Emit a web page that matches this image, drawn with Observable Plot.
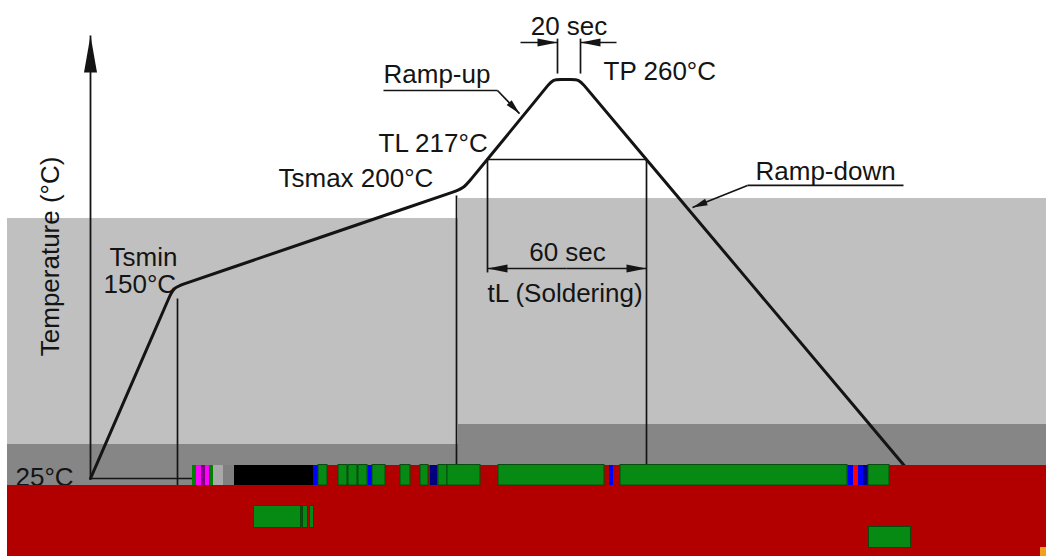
<!DOCTYPE html>
<html>
<head>
<meta charset="utf-8">
<script src="https://cdn.jsdelivr.net/npm/d3@7"></script>
<script src="https://cdn.jsdelivr.net/npm/@observablehq/plot@0.6"></script>
<style>
  html, body { margin: 0; padding: 0; background: #fff; }
  #chart svg { display: block; }
</style>
</head>
<body>
<div id="chart"></div>
<script>
// ---------- data (schematic time units on x, temperature in °C on y) ----------
// reflow profile, including the control points of the rounded corners
const profileTime = [90, 163.4, 168.2, 173, 184.4, 195.7, 440.3, 451.6, 463, 470.6, 478.2,
                     542.2, 547.2, 552.3, 560.3, 570.6, 578.6, 583.8, 588.9, 914.6];
const profileTemp = [25, 135.6, 142.8, 150, 152.0, 153.9, 196.1, 198.0, 200, 205.5, 210.9,
                     253.3, 256.7, 260, 260, 260, 260, 256.7, 253.4, 25];

// schematic (non-linear) temperature axis: key temperatures
const tempKeys   = [-26, 25, 150, 200, 217, 260, 302.5];
const tempPixels = [556, 478, 287, 188, 159, 79, 0];

// thin guide lines
const guides = [
  {x1: 90,  t1: 25,    x2: 300, t2: 25},     // 25 °C baseline
  {x1: 177, t1: 142.8, x2: 177, t2: 20.4},   // Tsmin drop
  {x1: 456, t1: 196.5, x2: 456, t2: 25},     // Tsmax drop
  {x1: 487, t1: 217,   x2: 646, t2: 217},    // TL level
  {x1: 487, t1: 217,   x2: 487, t2: 157.6},
  {x1: 646, t1: 217,   x2: 646, t2: 25},
  {x1: 557, t1: 282.0, x2: 557, t2: 263.2},  // 20 sec ticks
  {x1: 580, t1: 282.0, x2: 580, t2: 263.2},
  {x1: 383, t1: 254.1, x2: 497, t2: 254.1},  // Ramp-up underline
  {x1: 747, t1: 201.8, x2: 903, t2: 201.8}   // Ramp-down underline
];
// arrows (head at x2/t2)
const axisArrow = [{x1: 90, t1: 25, x2: 90, t2: 283.7}];
const dimArrows = [
  {x1: 520, t1: 279.9, x2: 557, t2: 279.9},
  {x1: 616, t1: 279.9, x2: 580, t2: 279.9},
  {x1: 566, t1: 159.6, x2: 487, t2: 159.6},
  {x1: 566, t1: 159.6, x2: 646, t2: 159.6}
];
const leaderArrows = [
  {x1: 497, t1: 254.1, x2: 519, t2: 241.7},
  {x1: 747, t1: 201.8, x2: 692, t2: 190.4}
];

// labels
const leftLabels = [
  {label: "TP 260°C",       x: 603, t: 259.5},
  {label: "Ramp-up",        x: 383, t: 257.9},
  {label: "TL 217°C",       x: 378, t: 220.8},
  {label: "Tsmax 200°C",    x: 278, t: 200.6},
  {label: "Tsmin",          x: 109, t: 161.1},
  {label: "150°C",          x: 103, t: 146.1},
  {label: "25°C",           x: 15,  t: 20.4},
  {label: "tL (Soldering)", x: 487, t: 140.2},
  {label: "Ramp-down",      x: 755, t: 204.7}
];
const centerLabels = [
  {label: "20 sec", x: 568.5, t: 283.7},
  {label: "60 sec", x: 567,   t: 163.6}
];
const axisTitle = [{label: "Temperature (°C)", x: 58, t: 165.7}];

// background bands of the picture
const lightBands = [
  {x1: 7,   x2: 458,  t1: 47.1, t2: 184.7},
  {x1: 458, x2: 1046, t1: 60.5, t2: 195.1}
];
const darkBands = [
  {x1: 7,   x2: 458,  t1: 20.4, t2: 47.1},
  {x1: 458, x2: 1046, t1: 20.4, t2: 60.5}
];
const redBands = [
  {x1: 7,   x2: 1046, t1: -26,  t2: 20.4},
  {x1: 192, x2: 1046, t1: 20.4, t2: 33.8}
];
// corrupted strip along the bottom
const stripKinds  = ["green", "magenta", "purple", "blue", "darkgray", "gray", "black", "navy", "red", "cyan"];
const stripColors = ["#0a8a1a", "#c21fc0", "#6a3aa8", "#1f45e6", "#2e3a30", "#56605a", "#0a100b", "#1c1f6a", "#c01010", "#30e0d0"];
const stripPieces = [
  {x1: 192, x2: 196, kind: "green"},
  {x1: 196, x2: 201, kind: "magenta"},
  {x1: 201, x2: 205, kind: "purple"},
  {x1: 205, x2: 209, kind: "magenta"},
  {x1: 209, x2: 213, kind: "green"},
  {x1: 213, x2: 223, kind: "darkgray"},
  {x1: 223, x2: 234, kind: "gray"},
  {x1: 234, x2: 313, kind: "black"},
  {x1: 313, x2: 318, kind: "blue"},
  {x1: 368, x2: 372, kind: "blue"},
  {x1: 430, x2: 437, kind: "navy"},
  {x1: 609, x2: 613, kind: "blue"},
  {x1: 848, x2: 853, kind: "blue"},
  {x1: 853, x2: 858, kind: "red"},
  {x1: 858, x2: 863, kind: "blue"},
  {x1: 863, x2: 868, kind: "navy"}
];
const greenBars = [
  {x1: 318, x2: 327}, {x1: 338, x2: 347}, {x1: 348, x2: 357}, {x1: 358, x2: 367},
  {x1: 372, x2: 385}, {x1: 400, x2: 410}, {x1: 420, x2: 428}, {x1: 438, x2: 447},
  {x1: 447, x2: 480}, {x1: 498, x2: 604}, {x1: 620, x2: 847}, {x1: 868, x2: 889}
];
const greenPatches = [
  {x1: 253, x2: 300, t1: -7.1, t2: 6.7},
  {x1: 302, x2: 307, t1: -7.1, t2: 6.7},
  {x1: 309, x2: 313, t1: -7.1, t2: 6.7},
  {x1: 868, x2: 910, t1: -20.2, t2: -6.4}
];
const cornerSpeck = [{x1: 1040, x2: 1046, t1: -26, t2: -20.2}];
const stripTemps = [20.4, 33.8];

// ---------- drawing ----------
const W = 1046, H = 556;
const INK = "#141414";
const yPx = d3.scaleLinear().domain(tempKeys).range(tempPixels);
const profile = profileTime.map((x, i) => ({x, t: profileTemp[i]}));

function headSymbol(len, wid, ang) {
  const c = Math.cos(ang), s = Math.sin(ang);
  return {
    draw(ctx) {
      const bx = -len * c, by = -len * s, px = -s * wid / 2, py = c * wid / 2;
      ctx.moveTo(0, 0);
      ctx.lineTo(bx + px, by + py);
      ctx.lineTo(bx - px, by - py);
      ctx.closePath();
    }
  };
}
function heads(arrows, len, wid) {
  return arrows.map(a => {
    const ang = Math.atan2(yPx(a.t2) - yPx(a.t1), a.x2 - a.x1);
    return Plot.dot([a], {x: "x2", y: "t2", r: 4, symbol: headSymbol(len, wid, ang), fill: INK, stroke: "none"});
  });
}
const linkOpts = (w) => ({x1: "x1", y1: "t1", x2: "x2", y2: "t2", stroke: INK, strokeWidth: w});
const rectOpts = {x1: "x1", x2: "x2", y1: "t1", y2: "t2", shapeRendering: "crispEdges"};
const font = "Liberation Sans, Arial, Helvetica, sans-serif";

const chart = Plot.plot({
  width: W,
  height: H,
  margin: 0,
  style: {background: "#ffffff", fontFamily: font},
  x: {type: "linear", domain: [0, W], range: [0, W], axis: null},
  y: {type: "linear", domain: tempKeys, range: tempPixels, axis: null},
  color: {type: "ordinal", domain: stripKinds, range: stripColors, legend: false},
  marks: [
    Plot.rect(lightBands, {...rectOpts, fill: "#c0c0c0"}),
    Plot.rect(darkBands, {...rectOpts, fill: "#868686"}),
    Plot.link(guides, linkOpts(1.7)),
    Plot.link(axisArrow, linkOpts(1.8)),
    Plot.link(dimArrows, linkOpts(1.7)),
    Plot.link(leaderArrows, linkOpts(1.7)),
    Plot.line(profile, {x: "x", y: "t", curve: "basis", stroke: INK, strokeWidth: 3, strokeLinejoin: "round"}),
    ...heads(axisArrow, 37, 13),
    ...heads(dimArrows, 20, 8),
    ...heads(leaderArrows, 15, 7),
    Plot.text(leftLabels, {x: "x", y: "t", text: "label", textAnchor: "start", lineAnchor: "bottom",
                           fontSize: 26, fontFamily: font, fill: INK}),
    Plot.text(centerLabels, {x: "x", y: "t", text: "label", textAnchor: "middle", lineAnchor: "bottom",
                             fontSize: 26, fontFamily: font, fill: INK}),
    Plot.text(axisTitle, {x: "x", y: "t", text: "label", rotate: -90, textAnchor: "middle", lineAnchor: "bottom",
                          fontSize: 26, fontFamily: font, fill: INK}),
    Plot.rect(redBands, {...rectOpts, fill: "#b20000"}),
    Plot.rect(stripPieces, {x1: "x1", x2: "x2", y1: stripTemps[0], y2: stripTemps[1], fill: "kind", shapeRendering: "crispEdges"}),
    Plot.rect(greenBars, {x1: "x1", x2: "x2", y1: stripTemps[0], y2: stripTemps[1], fill: "#078a14", stroke: "#064a0c", strokeWidth: 1}),
    Plot.rect(greenPatches, {...rectOpts, fill: "#078a14", stroke: "#064a0c", strokeWidth: 1}),
    Plot.rect(cornerSpeck, {...rectOpts, fill: "#f0a020"})
  ]
});
document.getElementById("chart").appendChild(chart);
</script>
</body>
</html>
